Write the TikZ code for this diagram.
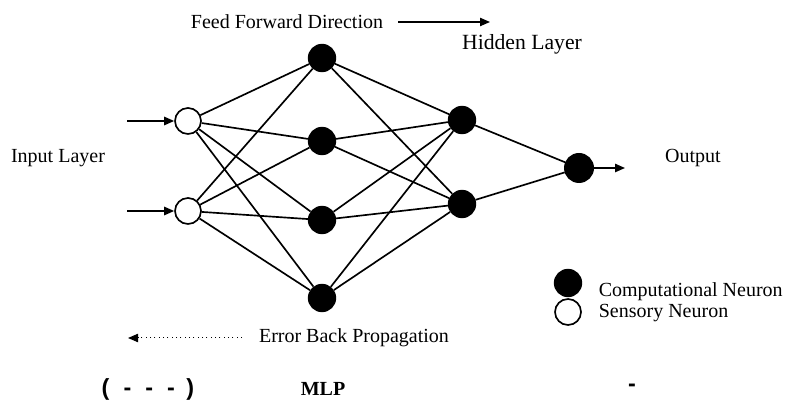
\documentclass[tikz,border=0pt]{standalone}
\usepackage{fontspec}
\setmainfont{Liberation Serif}
\setsansfont{Liberation Sans}
\usetikzlibrary{arrows.meta}
\begin{document}
\begin{tikzpicture}[x=0.6pt, y=-0.6pt, line width=1pt, >={Triangle[length=6pt,width=5pt]},
sens node/.style={circle,draw,fill=white,minimum size=15.6pt,inner sep=0pt},
comp node/.style={circle,draw,fill=black,minimum size=16pt,inner sep=0pt},
lbl/.style={font=\fontsize{12}{14}\selectfont,inner sep=0pt},
bold lbl/.style={font=\fontsize{14}{16}\selectfont\sffamily\bfseries,inner sep=0pt}]
\useasboundingbox (0,0) rectangle (786,401);
% neurons
\node [sens node](i1) at (188,121) {};
\node [sens node](i2) at (188,211) {};
\node [comp node](h1) at (322,58) {};
\node [comp node](h2) at (322,141) {};
\node [comp node](h3) at (322,220) {};
\node [comp node](h4) at (322,298) {};
\node [comp node](g1) at (462,120) {};
\node [comp node](g2) at (462,204) {};
\node [comp node,minimum size=17pt](o) at (579,168) {};
% inputs and output
\coordinate (a1) at (127,121);
\coordinate (a2) at (127,211);
\coordinate (z) at (625,168);
\draw [->] (a1) -- (i1);
\draw [->] (a2) -- (i2);
\draw [->] (o) -- (z);
% connections
\draw (i1) -- (h1); \draw (i1) -- (h2); \draw (i1) -- (h3); \draw (i1) -- (h4);
\draw (i2) -- (h1); \draw (i2) -- (h2); \draw (i2) -- (h3); \draw (i2) -- (h4);
\draw (h1) -- (g1); \draw (h1) -- (g2);
\draw (h2) -- (g1); \draw (h2) -- (g2);
\draw (h3) -- (g1); \draw (h3) -- (g2);
\draw (h4) -- (g1); \draw (h4) -- (g2);
\draw (g1) -- (o); \draw (g2) -- (o);
% labels
\node [lbl](ff) at (287,22) {Feed Forward Direction};
\coordinate (f1) at (398,22);
\coordinate (f2) at (490,22);
\draw [->,line width=0.7pt] (f1) -- (f2);
\node [lbl,font=\fontsize{13}{15}\selectfont](hl) at (522,44) {Hidden Layer};
\node [lbl](il) at (58,158) {Input Layer};
\node [lbl](ol) at (693,158) {Output};
\node [lbl](eb) at (354,338) {Error Back Propagation};
\coordinate (e1) at (242,338);
\coordinate (e2) at (128,338);
\draw [->,dotted,line width=0.6pt] (e1) -- (e2);
% legend
\node [comp node](lc) at (568,283) {};
\node [sens node](ls) at (568,312) {};
\node [lbl,anchor=west](lct) at (598,292) {Computational Neuron};
\node [lbl,anchor=west](lst) at (598,313) {Sensory Neuron};
% bottom line
\node [bold lbl](p) at (148,389) {(\hspace{0.6em}-\hspace{0.6em}-\hspace{0.6em}-\hspace{0.5em})};
\node [lbl,font=\fontsize{12}{14}\selectfont\bfseries](mlp) at (323,389) {MLP};
\node [bold lbl](d) at (632,388) {-};
\end{tikzpicture}
\end{document}
